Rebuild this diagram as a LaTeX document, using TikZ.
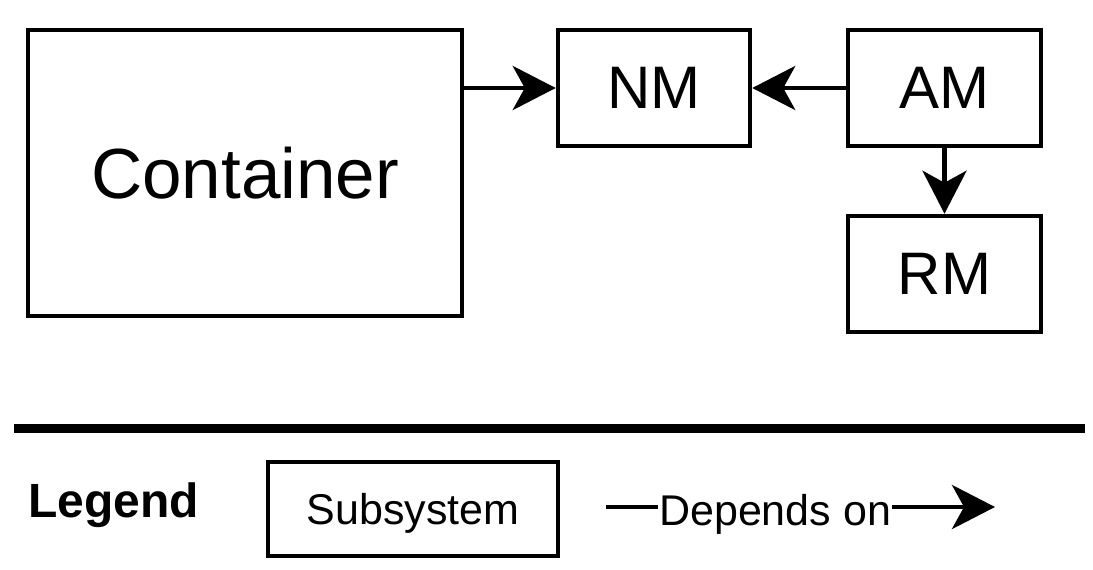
\documentclass[tikz,border=0pt]{standalone}
\usepackage{fontspec}
\setmainfont{Liberation Sans}
\usetikzlibrary{arrows.meta}
\tikzset{
  box/.style={draw, line width=4.5pt, rectangle, inner sep=0pt, align=center},
  dep/.style={line width=4.5pt, -{Stealth[length=43pt, width=44pt, inset=12pt]}},
}
\begin{document}
\begin{tikzpicture}[x=1pt, y=-1pt]
\useasboundingbox (0,0) rectangle (1093,570);
\node[box, minimum width=434pt, minimum height=286pt, font=\fontsize{71}{80}\selectfont] (C) at (245,173) {Container};
\node[box, minimum width=192pt, minimum height=116pt, font=\fontsize{60}{70}\selectfont] (NM) at (654,88) {NM};
\node[box, minimum width=193pt, minimum height=116pt, font=\fontsize{60}{70}\selectfont] (AM) at (944.5,88) {AM};
\node[box, minimum width=193pt, minimum height=116pt, font=\fontsize{60}{70}\selectfont] (RM) at (944.5,274) {RM};
\draw[dep] (C.east |- NM.west) -- (NM.west);
\draw[dep] (AM.west) -- (NM.east);
\draw[dep] (AM.south) -- (RM.north);
% separator
\coordinate (s1) at (14,428.5);
\coordinate (s2) at (1085,428.5);
\draw[line width=9pt] (s1) -- (s2);
% legend
\node[anchor=base west, inner sep=0pt, font=\fontsize{48}{56}\selectfont\bfseries] (leg) at (28,517) {Legend};
\node[box, minimum width=290pt, minimum height=94pt, text depth=0pt, font=\fontsize{43}{50}\selectfont] (sub) at (413,509) {Subsystem};
\coordinate (d1) at (606,507);
\coordinate (d2) at (995,507);
\node[anchor=base west, inner sep=1pt, font=\fontsize{43}{50}\selectfont] (dt) at (658,525) {Depends on};
\draw[line width=4.5pt] (d1) -- (dt.west |- d1);
\draw[dep] (dt.east |- d1) -- (d2);
\end{tikzpicture}
\end{document}
